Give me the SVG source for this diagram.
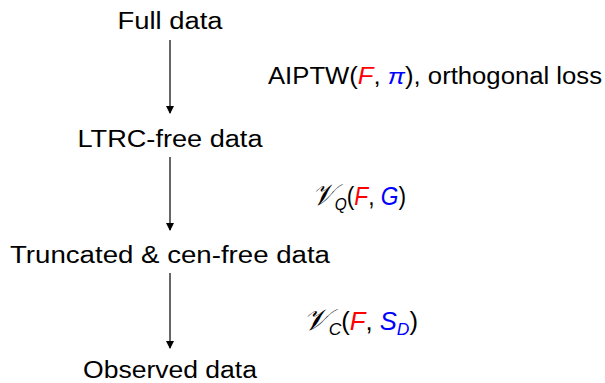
<svg xmlns="http://www.w3.org/2000/svg" width="605" height="383" viewBox="0 0 605 383">
<style>
.t{font-family:"Liberation Sans","DejaVu Sans",sans-serif;font-size:23px;fill:#000}
.m{font-size:25px}
.r{fill:#ff0000;font-style:italic}
.b{fill:#0000ff}
.bi{fill:#0000ff;font-style:italic}
.cal{font-family:"DejaVu Serif","DejaVu Sans",serif;font-style:italic;font-size:30px}
.sub{font-size:17px;font-style:italic}
.edge{stroke:#000;stroke-width:1.2;fill:none;marker-end:url(#ah)}
</style>
<defs>
<marker id="ah" markerWidth="8" markerHeight="10" refX="7" refY="4" orient="auto" markerUnits="userSpaceOnUse" viewBox="0 0 8 8">
<path d="M0,0 L8,4 L0,8 Z" fill="#000"/>
</marker>
</defs>
<rect width="605" height="383" fill="#fff"/>
<g id="n-full"><text class="t" x="170" y="29" text-anchor="middle" textLength="105" lengthAdjust="spacingAndGlyphs">Full data</text></g>
<g id="n-ltrc"><text class="t" x="170" y="147" text-anchor="middle" textLength="185" lengthAdjust="spacingAndGlyphs">LTRC-free data</text></g>
<g id="n-trunc"><text class="t" x="170" y="263" text-anchor="middle" textLength="320" lengthAdjust="spacingAndGlyphs">Truncated &amp; cen-free data</text></g>
<g id="n-obs"><text class="t" x="170" y="378" text-anchor="middle" textLength="174" lengthAdjust="spacingAndGlyphs">Observed data</text></g>
<g id="edges">
<line class="edge" x1="170" y1="40" x2="170" y2="113"/>
<line class="edge" x1="170" y1="157" x2="170" y2="230"/>
<line class="edge" x1="170" y1="273" x2="170" y2="348"/>
</g>
<g id="labels">
<text class="t" x="268" y="84" textLength="334" lengthAdjust="spacingAndGlyphs">AIPTW(<tspan class="r">F</tspan>, <tspan class="bi">π</tspan>), orthogonal loss</text>
<text class="t m" x="312" y="205" textLength="94" lengthAdjust="spacingAndGlyphs"><tspan class="cal">𝒱</tspan><tspan class="sub" dy="5">Q</tspan><tspan dy="-5">(</tspan><tspan class="r">F</tspan>, <tspan class="bi">G</tspan>)</text>
<text class="t m" x="303" y="330" textLength="115" lengthAdjust="spacingAndGlyphs"><tspan class="cal">𝒱</tspan><tspan class="sub" dy="5">C</tspan><tspan dy="-5">(</tspan><tspan class="r">F</tspan>, <tspan class="bi">S</tspan><tspan class="sub b" dy="5">D</tspan><tspan dy="-5">)</tspan></text>
</g>
</svg>
